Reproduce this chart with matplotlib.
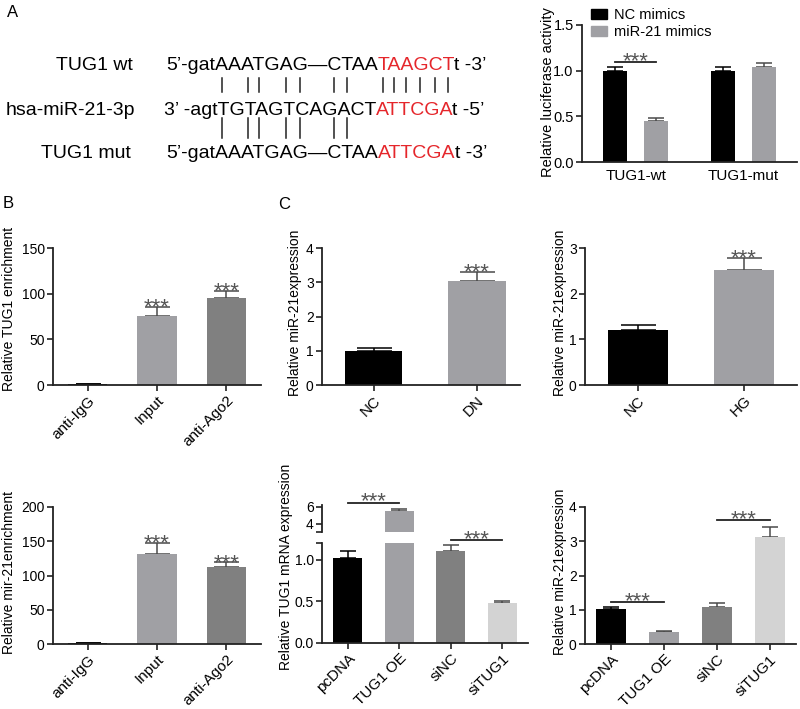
import matplotlib
matplotlib.use('Agg')
import matplotlib.pyplot as plt
from matplotlib.lines import Line2D
from matplotlib.font_manager import FontProperties
import numpy as np

plt.rcParams['font.family'] = ['Liberation Sans', 'DejaVu Sans']
plt.rcParams['axes.linewidth'] = 1.3

# ---------------- data ----------------
lucif_groups = ['TUG1-wt', 'TUG1-mut']
lucif_series = ['NC mimics', 'miR-21 mimics']
lucif_nc = [1.0, 1.0]
lucif_nc_err = [0.04, 0.04]
lucif_mir = [0.45, 1.04]
lucif_mir_err = [0.03, 0.04]

rip_cats = ['anti-IgG', 'Input', 'anti-Ago2']
rip_tug1 = [1.0, 76, 95]
rip_tug1_err = [0.3, 9, 7.5]
rip_mir = [1.0, 131, 112]
rip_mir_err = [0.3, 17, 7]

dn_cats = ['NC', 'DN']
dn_vals = [1.0, 3.05]
dn_err = [0.07, 0.26]

hg_cats = ['NC', 'HG']
hg_vals = [1.2, 2.52]
hg_err = [0.11, 0.26]

oe_cats = ['pcDNA', 'TUG1 OE', 'siNC', 'siTUG1']
oe_tug1 = [1.02, 5.53, 1.10, 0.48]
oe_tug1_err = [0.08, 0.22, 0.08, 0.03]
oe_mir = [1.01, 0.36, 1.09, 3.13]
oe_mir_err = [0.06, 0.02, 0.10, 0.29]

seq_labels = ['TUG1 wt', 'hsa-miR-21-3p', 'TUG1 mut']
seq_rows = [
    [('5\u2019-gatAAATGAG\u2014CTAA', 'k'), ('TAAGCT', 'r'), ('t -3\u2019', 'k')],
    [('3\u2019 -agtTGTAGTCAGACT', 'k'), ('ATTCGA', 'r'), ('t -5\u2019', 'k')],
    [('5\u2019-gatAAATGAG\u2014CTAA', 'k'), ('ATTCGA', 'r'), ('t -3\u2019', 'k')],
]
pair_idx_top = [6, 8, 9, 11, 12, 14, 15, 18, 19, 20, 21, 22, 23]
pair_idx_bot = [6, 8, 9, 11, 12, 14, 15]

# ---------------- figure ----------------
W, H = 800, 709
fig = plt.figure(figsize=(W / 100, H / 100), dpi=100)

BLACK = '#000000'
LGRAY = '#a0a0a4'
DGRAY = '#808080'
XLGRAY = '#d3d3d3'
SPINE = '#222222'
STARC = '#555555'
RED = '#e5262b'


def px_axes(l, t, r, b):
    ax = fig.add_axes([l / W, 1 - b / H, (r - l) / W, (b - t) / H])
    ax.patch.set_alpha(0)
    for s in ['top', 'right']:
        ax.spines[s].set_visible(False)
    for s in ['left', 'bottom']:
        ax.spines[s].set_color(SPINE)
    ax.tick_params(direction='out', length=4, width=1.2, color=SPINE,
                   labelsize=10, pad=2)
    return ax


def ylabel_px(ax, text, right_px, yc_px, fs=10):
    ax.set_ylabel(text, fontsize=fs)
    ax.yaxis.set_label_coords(right_px / W, 1 - yc_px / H, transform=fig.transFigure)


def bars(ax, xs, vals, errs, colors, width, capw_px):
    ax.bar(xs, vals, width=width, color=colors, edgecolor='none', zorder=2)
    for x, v, e, c in zip(xs, vals, errs, colors):
        ec = 'black' if c == BLACK else '#4a4a4a'
        ax.errorbar([x], [v], yerr=[[0], [e]], fmt='none', ecolor=ec,
                    elinewidth=1.1, capsize=capw_px / 2 * 0.72, capthick=1.1, zorder=1)


def stars(ax, x, y, fs=16, dy=-4.5):
    ax.annotate('***', (x, y), xytext=(0, dy), textcoords='offset points',
                ha='center', va='baseline', fontsize=fs, color=STARC,
                annotation_clip=False)


def sigline(ax, x0, x1, y):
    ax.plot([x0, x1], [y, y], color='#222222', lw=1.3, clip_on=False)
    stars(ax, (x0 + x1) / 2, y, dy=-3.5)


def rot_labels(ax, cats):
    ax.set_xticks(range(len(cats)))
    ax.set_xticklabels(cats, rotation=45, ha='right', va='top',
                       rotation_mode='anchor', fontsize=11)


# ---------------- panel letters ----------------
fig.text(7 / W, 1 - 17 / H, 'A', fontsize=12, va='baseline')
fig.text(3 / W, 1 - 208 / H, 'B', fontsize=12, va='baseline')
fig.text(278 / W, 1 - 209 / H, 'C', fontsize=12, va='baseline')

# ---------------- panel A sequences ----------------
renderer = fig.canvas.get_renderer()
fp = FontProperties(family=['Liberation Sans'], size=14)
label_right = [133, 135, 131]
row_start = [166, 164, 166]
row_base = [70, 115, 158]


def tw(s):
    if not s:
        return 0.0
    w, h, d = renderer.get_text_width_height_descent(s, fp, ismath=False)
    return w


for i in range(3):
    fig.text(label_right[i] / W, 1 - row_base[i] / H, seq_labels[i], fontproperties=fp,
             ha='right', va='baseline')
    pre = ''
    for s, c in seq_rows[i]:
        x = row_start[i] + tw(pre)
        fig.text(x / W, 1 - row_base[i] / H, s, fontproperties=fp,
                 color=(RED if c == 'r' else 'black'), ha='left', va='baseline')
        pre += s


def letter_center(full, idx, start):
    return start + (tw(full[:idx]) + tw(full[:idx + 1])) / 2


top_full = ''.join(s for s, c in seq_rows[0])
mut_full = ''.join(s for s, c in seq_rows[2])
for idx in pair_idx_top:
    xc = letter_center(top_full, idx, row_start[0])
    fig.add_artist(Line2D([xc / W, xc / W], [1 - 78 / H, 1 - 92 / H], color='#222222', lw=1.1))
for idx in pair_idx_bot:
    xc = letter_center(mut_full, idx, row_start[2])
    fig.add_artist(Line2D([xc / W, xc / W], [1 - 118 / H, 1 - 138 / H], color='#222222', lw=1.1))

# ---------------- panel A bar chart ----------------
axA = px_axes(582, 25, 797, 162)
xg = np.arange(len(lucif_groups))
bars(axA, xg - 0.19, lucif_nc, lucif_nc_err, [BLACK] * 2, 0.225, 16)
bars(axA, xg + 0.19, lucif_mir, lucif_mir_err, [LGRAY] * 2, 0.225, 16)
axA.set_xlim(-0.5, 1.5)
axA.set_ylim(0, 1.5)
axA.set_yticks([0, 0.5, 1.0, 1.5])
axA.set_yticklabels(['0.0', '0.5', '1.0', '1.5'], fontsize=10.5)
axA.set_xticks(xg)
axA.set_xticklabels(lucif_groups, fontsize=11)
axA.tick_params(axis='x', length=0, pad=5)
ylabel_px(axA, 'Relative luciferase activity', 555, 92, fs=10.5)
sigline(axA, -0.19, 0.19, 1.09)
hA = [plt.Rectangle((0, 0), 1, 1, color=BLACK), plt.Rectangle((0, 0), 1, 1, color=LGRAY)]
axA.legend(hA, lucif_series, loc='upper left', bbox_to_anchor=(591 / W, 1 - 8 / H),
           bbox_transform=fig.transFigure, frameon=False, fontsize=10.5,
           handlelength=1.1, handleheight=0.7, handletextpad=0.5,
           labelspacing=0.2, borderpad=0, borderaxespad=0)

# ---------------- panel B ----------------
rip_colors = [BLACK, LGRAY, DGRAY]
axB1 = px_axes(53, 248, 261, 385)
bars(axB1, range(3), rip_tug1, rip_tug1_err, rip_colors, 0.57, 25)
axB1.set_xlim(-0.5, 2.5)
axB1.set_ylim(0, 150)
axB1.set_yticks([0, 50, 100, 150])
rot_labels(axB1, rip_cats)
ylabel_px(axB1, 'Relative TUG1 enrichment', 16, 309)
for i in (1, 2):
    stars(axB1, i, rip_tug1[i] + rip_tug1_err[i])

axB2 = px_axes(53, 507, 261, 644)
bars(axB2, range(3), rip_mir, rip_mir_err, rip_colors, 0.57, 25)
axB2.set_xlim(-0.5, 2.5)
axB2.set_ylim(0, 200)
axB2.set_yticks([0, 50, 100, 150, 200])
rot_labels(axB2, rip_cats)
ylabel_px(axB2, 'Relative mir-21enrichment', 16, 572)
for i in (1, 2):
    stars(axB2, i, rip_mir[i] + rip_mir_err[i])

# ---------------- panel C top ----------------
axC1 = px_axes(322, 248, 520, 385)
bars(axC1, range(2), dn_vals, dn_err, [BLACK, LGRAY], 0.56, 35)
axC1.set_xlim(-0.5, 1.42)
axC1.set_ylim(0, 4)
axC1.set_yticks([0, 1, 2, 3, 4])
rot_labels(axC1, dn_cats)
ylabel_px(axC1, 'Relative miR-21expression', 302, 313)
stars(axC1, 1, dn_vals[1] + dn_err[1])

axC2 = px_axes(585, 248, 797, 385)
bars(axC2, range(2), hg_vals, hg_err, [BLACK, LGRAY], 0.56, 35)
axC2.set_xlim(-0.5, 1.5)
axC2.set_ylim(0, 3)
axC2.set_yticks([0, 1, 2, 3])
rot_labels(axC2, hg_cats)
ylabel_px(axC2, 'Relative miR-21expression', 567, 313)
stars(axC2, 1, hg_vals[1] + hg_err[1])

# ---------------- panel C bottom: broken axis ----------------
oe_colors = [BLACK, LGRAY, DGRAY, XLGRAY]
axC3 = px_axes(322, 543, 528, 643)
bars(axC3, range(4), oe_tug1, oe_tug1_err, oe_colors, 0.57, 16)
axC3.set_xlim(-0.5, 3.5)
axC3.set_ylim(0, 1.2)
axC3.set_yticks([0, 0.5, 1.0, 1.2])
axC3.set_yticklabels(['0.0', '0.5', '1.0', ''])
rot_labels(axC3, oe_cats)
ylabel_px(axC3, 'Relative TUG1 mRNA expression', 293, 567)
sigline(axC3, 2, 3, 1.236)

axC3u = px_axes(322, 505, 528, 532)
bars(axC3u, range(4), oe_tug1, oe_tug1_err, oe_colors, 0.57, 16)
axC3u.set_xlim(-0.5, 3.5)
axC3u.set_ylim(3, 6.2)
axC3u.spines['bottom'].set_visible(False)
axC3u.set_xticks([])
axC3u.set_yticks([3, 4, 6])
axC3u.set_yticklabels(['', '4', '6'])
sigline(axC3u, 0, 1, 6.47)

axC4 = px_axes(585, 507, 796, 644)
bars(axC4, range(4), oe_mir, oe_mir_err, oe_colors, 0.57, 16)
axC4.set_xlim(-0.5, 3.5)
axC4.set_ylim(0, 4)
axC4.set_yticks([0, 1, 2, 3, 4])
rot_labels(axC4, oe_cats)
ylabel_px(axC4, 'Relative miR-21expression', 567, 572)
sigline(axC4, 0, 1, 1.23)
sigline(axC4, 2, 3, 3.62)

fig.savefig('out.png', dpi=100)
